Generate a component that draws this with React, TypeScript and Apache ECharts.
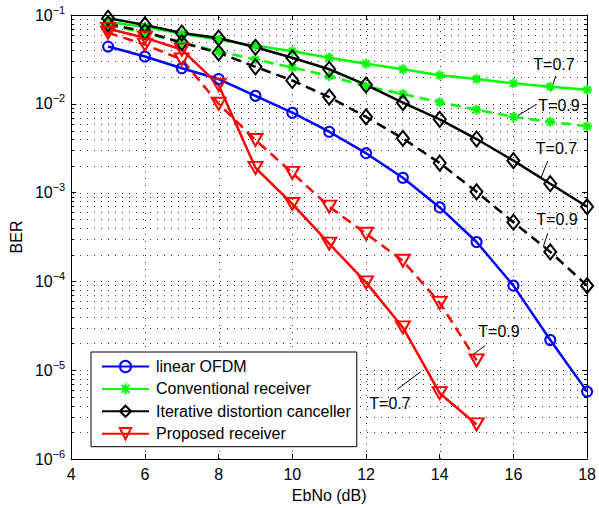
import React, { useEffect, useRef } from "react";
import * as echarts from "echarts";

const ebnoFull = [5, 6, 7, 8, 9, 10, 11, 12, 13, 14, 15, 16, 17, 18];
const ebnoProposed = [5, 6, 7, 8, 9, 10, 11, 12, 13, 14, 15];

const linearOFDM = [0.0441, 0.0341, 0.0251, 0.019, 0.0123, 0.00794, 0.00485, 0.00278, 0.00147, 0.000681, 0.000278, 8.96e-5, 2.19e-5, 5.74e-6];
const convT07 = [0.0836, 0.0735, 0.0615, 0.0528, 0.0452, 0.0391, 0.033, 0.0283, 0.0245, 0.021, 0.019, 0.017, 0.0156, 0.0144];
const convT09 = [0.0774, 0.0631, 0.0489, 0.0388, 0.0316, 0.0256, 0.0206, 0.0157, 0.0129, 0.0104, 0.00858, 0.00712, 0.00626, 0.00559];
const idcT07 = [0.0919, 0.0774, 0.0626, 0.0551, 0.0433, 0.033, 0.0245, 0.0163, 0.0103, 0.00669, 0.00401, 0.00229, 0.00126, 0.000694];
const idcT09 = [0.0794, 0.0647, 0.0489, 0.0375, 0.0261, 0.0183, 0.0119, 0.00712, 0.00408, 0.00215, 0.00102, 0.000464, 0.000215, 8.96e-5];
const propT07 = [0.0699, 0.0555, 0.0408, 0.0163, 0.0019, 0.000745, 0.000266, 9.75e-5, 3.03e-5, 5.51e-6, 2.45e-6];
const propT09 = [0.0631, 0.0464, 0.0316, 0.01, 0.00391, 0.00167, 0.000694, 0.000344, 0.000171, 5.74e-5, 1.29e-5];

const legendNames = ["linear OFDM", "Conventional receiver", "Iterative distortion canceller", "Proposed receiver"];
const xTicks = { min: 4, max: 18, interval: 2 };
const yRange = { min: 1e-6, max: 1e-1 };

const annotations = [
  { text: "T=0.7", tx: 554, ty: 64, x1: 555.7, y1: 76, x2: 551, y2: 90.7 },
  { text: "T=0.9", tx: 559, ty: 105.5, x1: 536.7, y1: 104.3, x2: 517.7, y2: 115.7 },
  { text: "T=0.7", tx: 556.5, ty: 148, x1: 547.7, y1: 161, x2: 541, y2: 177.7 },
  { text: "T=0.9", tx: 557, ty: 219.5, x1: 547.7, y1: 233.3, x2: 543.3, y2: 246.7 },
  { text: "T=0.9", tx: 499, ty: 331.5, x1: 485, y1: 345.7, x2: 471, y2: 356 },
  { text: "T=0.7", tx: 390, ty: 403.7, x1: 397.3, y1: 389.3, x2: 420.7, y2: 371.7 },
];

const FONT = "Liberation Sans, Arial, Helvetica, sans-serif";
const ASTERISK = "path://M5 0L5 10M0 5L10 5M1.5 1.5L8.5 8.5M1.5 8.5L8.5 1.5";

function pairs(xs: number[], ys: number[]) {
  return xs.map((x, i) => [x, ys[i]]);
}

export default function App() {
  const ref = useRef<HTMLDivElement>(null);
  useEffect(() => {
    document.body.style.margin = "0";
    const chart = echarts.init(ref.current!, null, { renderer: "svg" });

    // grid line positions: [x, y, kind] kind 0 = major horizontal, 2 = minor horizontal, 1 = vertical
    const gridLines: number[][] = [];
    for (let d = -6; d <= -2; d++) {
      for (let k = 1; k <= 9; k++) {
        const v = k * Math.pow(10, d);
        if (v > yRange.min * 1.01) gridLines.push([xTicks.min, v, k === 1 ? 0 : 2]);
      }
    }
    for (let x = xTicks.min + xTicks.interval; x < xTicks.max; x += xTicks.interval) {
      gridLines.push([x, yRange.min, 1]);
    }

    const mk = (
      name: string,
      xs: number[],
      ys: number[],
      color: string,
      symbol: string,
      size: any,
      dashed: boolean,
      extra: any = {}
    ) => ({
      type: "line",
      name,
      data: pairs(xs, ys),
      symbol,
      symbolSize: size,
      showAllSymbol: true,
      lineStyle: { color, width: 2.5, type: dashed ? [10, 6] : "solid" },
      itemStyle: { color: "rgba(0,0,0,0)", borderColor: color, borderWidth: 2 },
      emphasis: { disabled: true },
      ...extra,
    });

    const series: any[] = [
      {
        type: "custom",
        name: "grid",
        silent: true,
        data: gridLines,
        encode: { x: 0, y: 1 },
        renderItem: (params: any, api: any) => {
          const cs = params.coordSys;
          const p = api.coord([api.value(0), api.value(1)]);
          const style = { stroke: "#333", lineWidth: 1, lineDash: [1, 6], fill: null };
          const tick = { stroke: "#000", lineWidth: 1, fill: null };
          const kind = api.value(2);
          if (kind === 0 || kind === 2) {
            const y = Math.round(p[1]) + 0.5;
            const children: any[] = [
              {
                type: "line",
                silent: true,
                shape: { x1: Math.round(cs.x) + 2, y1: y, x2: cs.x + cs.width, y2: y },
                style,
              },
            ];
            if (kind === 2) {
              children.push({
                type: "line",
                silent: true,
                shape: { x1: cs.x, y1: y, x2: cs.x + 3, y2: y },
                style: tick,
              });
              children.push({
                type: "line",
                silent: true,
                shape: { x1: cs.x + cs.width - 3, y1: y, x2: cs.x + cs.width, y2: y },
                style: tick,
              });
            }
            return { type: "group", children };
          }
          const x = Math.round(p[0]) + 0.5;
          return {
            type: "line",
            silent: true,
            shape: { x1: x, y1: Math.round(cs.y) + 2, x2: x, y2: cs.y + cs.height },
            style,
          };
        },
      },
      mk(legendNames[0], ebnoFull, linearOFDM, "#0000ff", "circle", 10, false),
      mk(legendNames[1], ebnoFull, convT07, "#00ff00", ASTERISK, 10, false, {
        itemStyle: { color: "#00ff00", borderColor: "#00ff00", borderWidth: 2 },
      }),
      mk("Conventional receiver T=0.9", ebnoFull, convT09, "#00ff00", ASTERISK, 10, true, {
        itemStyle: { color: "#00ff00", borderColor: "#00ff00", borderWidth: 2 },
      }),
      mk(legendNames[2], ebnoFull, idcT07, "#000000", "diamond", [12, 15], false),
      mk("Iterative distortion canceller T=0.9", ebnoFull, idcT09, "#000000", "diamond", [12, 15], true),
      mk(legendNames[3], ebnoProposed, propT07, "#ff0000", "triangle", [14, 12], false, { symbolRotate: 180 }),
      mk("Proposed receiver T=0.9", ebnoProposed, propT09, "#ff0000", "triangle", [14, 12], true, { symbolRotate: 180 }),
    ];

    const graphic: any[] = [];
    annotations.forEach((a) => {
      graphic.push({
        type: "text",
        x: a.tx,
        y: a.ty,
        silent: true,
        style: { text: a.text, font: `16px ${FONT}`, fill: "#000", align: "center", verticalAlign: "middle" },
      });
      graphic.push({
        type: "line",
        silent: true,
        shape: { x1: a.x1, y1: a.y1, x2: a.x2, y2: a.y2 },
        style: { stroke: "#000", lineWidth: 1 },
      });
    });

    const axisLineStyle = { show: true, onZero: false, lineStyle: { color: "#000", width: 1 } };
    const tickStyle = { show: true, inside: true, length: 5, lineStyle: { color: "#000", width: 1 } };

    chart.setOption({
      animation: false,
      backgroundColor: "#fff",
      textStyle: { fontFamily: FONT },
      grid: { left: 66.5, right: 11.5, top: 15, bottom: 43, containLabel: false },
      xAxis: [
        {
          type: "value",
          min: xTicks.min,
          max: xTicks.max,
          interval: xTicks.interval,
          name: "EbNo (dB)",
          nameLocation: "middle",
          nameGap: 28,
          nameTextStyle: { fontSize: 16, color: "#000", fontFamily: FONT },
          axisLine: axisLineStyle,
          axisTick: tickStyle,
          axisLabel: { fontSize: 16, color: "#000", margin: 7, fontFamily: FONT },
          splitLine: { show: false },
        },
        {
          type: "value",
          position: "top",
          min: xTicks.min,
          max: xTicks.max,
          interval: xTicks.interval,
          axisLine: axisLineStyle,
          axisTick: tickStyle,
          axisLabel: { show: false },
          splitLine: { show: false },
        },
      ],
      yAxis: [
        {
          type: "log",
          logBase: 10,
          min: yRange.min,
          max: yRange.max,
          interval: 1,
          name: "BER",
          nameLocation: "middle",
          nameGap: 46,
          nameRotate: 90,
          nameTextStyle: { fontSize: 16, color: "#000", fontFamily: FONT },
          axisLine: axisLineStyle,
          axisTick: tickStyle,
          axisLabel: {
            margin: 6,
            formatter: (v: number) => `{a|10}{b|\u2212${Math.round(-Math.log10(v))}}`,
            rich: {
              a: { fontSize: 16, color: "#000", fontFamily: FONT },
              b: { fontSize: 11, color: "#000", fontFamily: FONT, padding: [0, 0, 11, 0] },
            },
          },
          splitLine: { show: false },
        },
        {
          type: "log",
          logBase: 10,
          position: "right",
          min: yRange.min,
          max: yRange.max,
          interval: 1,
          axisLine: axisLineStyle,
          axisTick: tickStyle,
          axisLabel: { show: false },
          splitLine: { show: false },
        },
      ],
      legend: {
        data: legendNames,
        orient: "vertical",
        left: 91,
        top: 352,
        padding: [6.5, 6, 5, 10],
        itemWidth: 47,
        itemHeight: 14,
        itemGap: 6.4,
        backgroundColor: "#fff",
        borderColor: "#000",
        borderWidth: 1,
        borderRadius: 0,
        selectedMode: false,
        textStyle: { fontSize: 16, lineHeight: 16, color: "#000", fontFamily: FONT, padding: [0, 0, 0, 2] },
      },
      series,
      graphic,
    });
    return () => chart.dispose();
  }, []);
  return <div ref={ref} style={{ width: 599, height: 508 }} />;
}
